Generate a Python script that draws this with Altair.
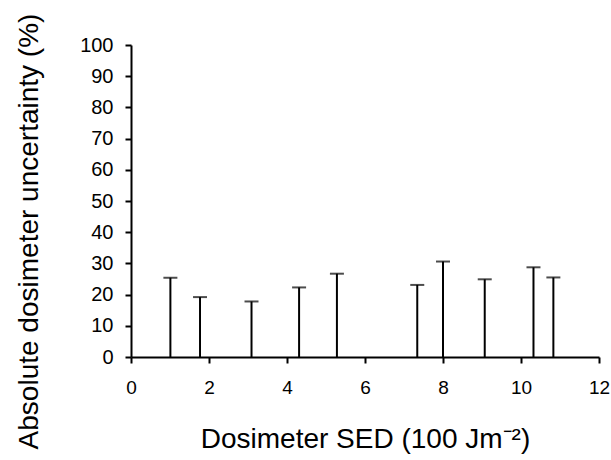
import altair as alt
import pandas as pd

sed = [1.01, 1.77, 3.09, 4.31, 5.28, 7.34, 8.0, 9.07, 10.32, 10.83]
uncertainty = [25.4, 19.2, 17.8, 22.3, 26.7, 23.1, 30.6, 24.9, 28.75, 25.5]
x_ticks = [0, 2, 4, 6, 8, 10, 12]
y_ticks = [0, 10, 20, 30, 40, 50, 60, 70, 80, 90, 100]

df = pd.DataFrame({"sed": sed, "unc": uncertainty, "zero": [0] * len(sed)})

FONT = "Liberation Sans"

x_enc = alt.X(
    "sed:Q",
    scale=alt.Scale(domain=[0, 12], nice=False),
    axis=alt.Axis(
        values=x_ticks,
        title="Dosimeter SED (100 Jm\u207b\u00b2)",
        grid=False,
        domainColor="black",
        domainWidth=2,
        tickColor="black",
        tickWidth=2,
        tickSize=6,
        labelFont=FONT,
        labelFontSize=19,
        labelColor="black",
        labelPadding=15,
        labelOverlap=False,
        labelFlush=False,
        titleFont=FONT,
        titleFontSize=28,
        titleFontWeight="normal",
        titleColor="black",
        titleBaseline="alphabetic",
        titleY=90,
    ),
)

y_enc = alt.Y(
    "unc:Q",
    scale=alt.Scale(domain=[0, 100], nice=False),
    axis=alt.Axis(
        values=y_ticks,
        tickCount=11,
        title="Absolute dosimeter uncertainty (%)",
        grid=False,
        domainColor="black",
        domainWidth=2,
        tickColor="black",
        tickWidth=2,
        tickSize=6,
        labelFont=FONT,
        labelFontSize=20,
        labelColor="black",
        labelPadding=12,
        labelOverlap=False,
        labelFlush=False,
        titleFont=FONT,
        titleFontSize=28,
        titleFontWeight="normal",
        titleColor="black",
        titleAngle=270,
        titleAlign="center",
        titleBaseline="alphabetic",
        titleX=-94,
        titleY=186,
    ),
)

base = alt.Chart(df).encode(x=x_enc, y=y_enc)

stems = base.mark_rule(color="black", strokeWidth=2).encode(y2="zero:Q")

caps = base.mark_tick(color="black", orient="horizontal", size=14, thickness=2)

chart = (
    alt.layer(stems, caps)
    .properties(
        width=468,
        height=312,
        autosize=alt.AutoSizeParams(type="none"),
        padding={"left": 131, "top": 45, "right": 12, "bottom": 103},
        background="white",
    )
    .configure_view(stroke=None)
)

chart.save("out.html", embed_options={"renderer": "svg", "actions": False})
